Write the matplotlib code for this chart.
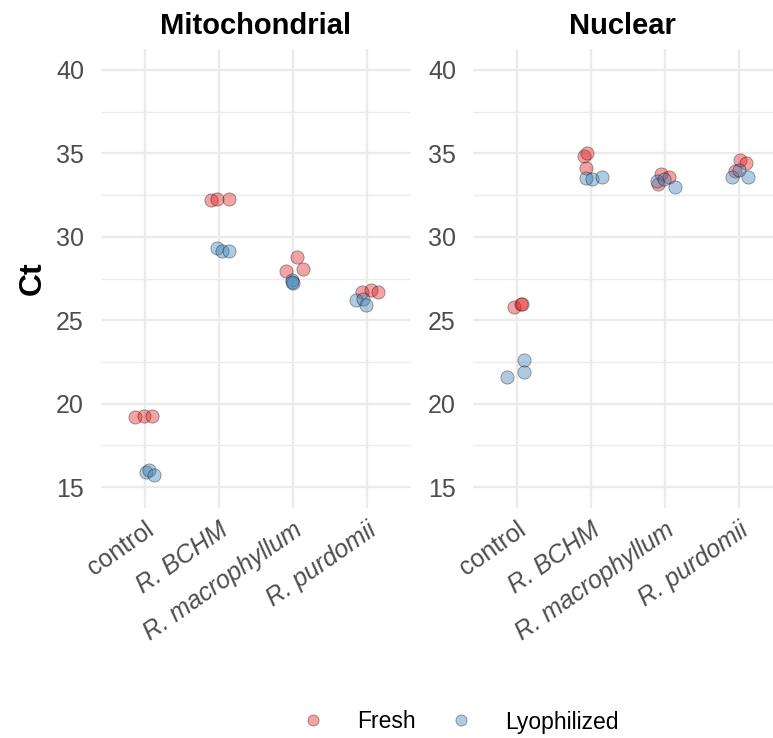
import matplotlib
matplotlib.use("Agg")
import matplotlib.pyplot as plt
from matplotlib.lines import Line2D

plt.rcParams["font.family"] = ["Liberation Sans", "DejaVu Sans"]

# ---- data ---------------------------------------------------------------
CATEGORIES = ["control", "R. BCHM", "R. macrophyllum", "R. purdomii"]
PANELS = ["Mitochondrial", "Nuclear"]

# Ct values, three replicates per category
MITO_FRESH = [[19.2, 19.27, 19.27], [32.19, 32.27, 32.27],
              [28.77, 27.95, 28.05], [26.69, 26.81, 26.67]]
MITO_LYO   = [[15.88, 16.0, 15.74], [29.31, 29.17, 29.15],
              [27.39, 27.21, 27.29], [26.19, 26.27, 25.89]]
NUC_FRESH  = [[25.77, 25.95, 25.99], [34.86, 35.02, 34.14],
              [33.75, 33.59, 33.15], [34.59, 34.41, 33.96]]
NUC_LYO    = [[21.58, 22.61, 21.88], [33.54, 33.47, 33.60],
              [33.33, 33.47, 33.0], [33.57, 33.99, 33.60]]

# horizontal jitter of each point (category units)
MITO_FRESH_JIT = [[-0.13, -0.01, 0.09], [-0.11, -0.03, 0.13],
                  [0.05, -0.09, 0.13], [-0.07, 0.06, 0.15]]
MITO_LYO_JIT   = [[0.01, 0.05, 0.12], [-0.03, 0.04, 0.14],
                  [-0.02, 0.0, -0.01], [-0.15, -0.06, -0.02]]
NUC_FRESH_JIT  = [[-0.04, 0.05, 0.07], [-0.09, -0.05, -0.07],
                  [-0.06, 0.06, -0.09], [0.02, 0.10, -0.05]]
NUC_LYO_JIT    = [[-0.14, 0.10, 0.10], [-0.07, 0.02, 0.15],
                  [-0.11, -0.02, 0.14], [-0.09, 0.0, 0.12]]

GROUPS = ["Fresh", "Lyophilized"]
COLORS = {"Fresh": "#E41A1C", "Lyophilized": "#377EB8"}

W, H = 773, 738
GRID = "#EBEBEB"
TXT = "#4D4D4D"
ALPHA = 0.4

fig = plt.figure(figsize=(W / 100, H / 100), dpi=100)

def px_axes(x0, x1, y0, y1):
    return fig.add_axes([x0 / W, 1 - y1 / H, (x1 - x0) / W, (y1 - y0) / H])

ax_m = px_axes(100.6, 411.4, 49, 508)
ax_n = px_axes(472.6, 773, 49, 508)

panel_data = [
    (ax_m, "Mitochondrial", MITO_FRESH, MITO_FRESH_JIT, MITO_LYO, MITO_LYO_JIT),
    (ax_n, "Nuclear", NUC_FRESH, NUC_FRESH_JIT, NUC_LYO, NUC_LYO_JIT),
]

for ax, title, fresh, fjit, lyo, ljit in panel_data:
    for grp, vals, jit in (("Fresh", fresh, fjit), ("Lyophilized", lyo, ljit)):
        xs, ys = [], []
        for i, (v, j) in enumerate(zip(vals, jit)):
            for yy, dj in zip(v, j):
                xs.append(i + 1 + dj)
                ys.append(yy)
        ax.scatter(xs, ys, s=90, facecolor=COLORS[grp], alpha=ALPHA,
                   edgecolor="black", linewidth=0.6, zorder=3)

    ax.set_ylim(13.75, 41.25)
    ax.set_yticks([15, 20, 25, 30, 35, 40])
    ax.set_yticks([17.5, 22.5, 27.5, 32.5, 37.5], minor=True)
    ax.set_xticks(range(1, 5))
    ax.grid(True, which="major", color=GRID, lw=1.7, zorder=0)
    ax.grid(True, which="minor", axis="y", color=GRID, lw=1.0, zorder=0)
    ax.set_axisbelow(True)
    for s in ax.spines.values():
        s.set_visible(False)
    ax.tick_params(which="both", length=0, labelsize=18, labelcolor=TXT)
    ax.tick_params(axis="y", pad=12)
    ax.tick_params(axis="x", pad=7)
    ax.set_xticklabels(CATEGORIES, rotation=35, ha="right",
                       rotation_mode="anchor")
    for lbl in ax.get_xticklabels()[1:]:
        lbl.set_style("italic")
    ax.set_title(title, fontsize=21, fontweight="bold", pad=11)

ax_m.set_xlim(0.4, 4.6)
ax_n.set_xlim(0.4, 0.4 + (773 - 472.6) / 74.0)
ax_m.set_ylabel("Ct", fontsize=23, fontweight="bold", labelpad=6)

handles = [Line2D([], [], ls="", marker="o", ms=8, markerfacecolor=COLORS[g],
                  alpha=ALPHA, markeredgecolor="black", markeredgewidth=0.6,
                  label=g) for g in GROUPS]
fig.legend(handles=handles, loc="center", bbox_to_anchor=(460 / W, 1 - 722 / H),
           ncol=2, frameon=False, fontsize=16.5, handlelength=1.0,
           handletextpad=1.42, columnspacing=1.46)

fig.savefig("out.png", dpi=100)
